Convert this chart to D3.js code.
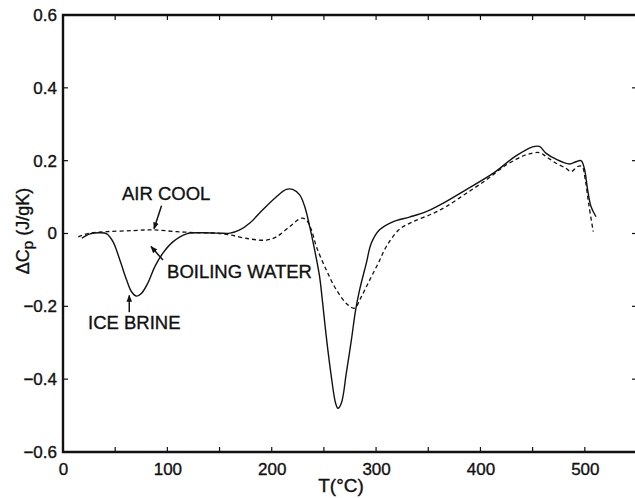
<!DOCTYPE html>
<html>
<head>
<meta charset="utf-8">
<script src="https://cdn.jsdelivr.net/npm/d3@7"></script>
<style>
  body { margin: 0; background: #fff; }
  svg text { font-family: "Liberation Sans", Arial, sans-serif; fill: #111;
             stroke: #111; stroke-width: 0.35px; }
</style>
</head>
<body>
<svg id="chart" width="635" height="498"></svg>
<script>
// solid curve (ice brine / boiling water)
var solidT = [18, 26, 35, 42, 48, 54.5, 61, 65.7, 70.5, 75.3, 81.3, 88, 95.7, 105.3,
  118.4, 131, 150, 160, 169.4, 179, 191.4, 204.5, 214, 220, 226.8, 231.6, 236.4,
  241.1, 245.9, 248.5, 252.3, 257.1, 261.2, 263.4, 266.7, 271.5, 276.3, 280.4,
  284.2, 290.6, 295.4, 303.3, 316, 332, 348, 364, 386, 412, 434, 450, 456.5,
  463, 472.4, 485.2, 491.6, 496.4, 499.5, 502.7, 505.9, 510.7];
var solidCp = [-0.013, -0.001, 0.002, -0.001, -0.023, -0.073, -0.128, -0.160, -0.172,
  -0.164, -0.136, -0.091, -0.054, -0.023, -0.001, 0.002, 0.001, 0.001, 0.010,
  0.029, 0.065, 0.101, 0.121, 0.121, 0.106, 0.074, 0.019, -0.045, -0.119, -0.183,
  -0.284, -0.393, -0.466, -0.480, -0.466, -0.383, -0.293, -0.210, -0.155, -0.082,
  -0.027, 0.010, 0.032, 0.045, 0.060, 0.083, 0.120, 0.165, 0.213, 0.238, 0.239,
  0.220, 0.204, 0.191, 0.197, 0.200, 0.179, 0.120, 0.074, 0.046];

// dashed curve (air cool)
var dashedT = [14.6, 25.8, 41.8, 67.3, 86.4, 108.8, 131, 147, 159.8, 179, 195,
  204.5, 217.2, 228.4, 233.2, 238, 242.8, 252.3, 262, 273, 279.4, 285.8, 293.8,
  302, 310, 322.5, 335.2, 354.4, 367.2, 386.3, 405.5, 424.6, 443.7, 456.5,
  463, 472.4, 482, 486.8, 493.1, 497.3, 500.5, 503.6, 508.1];
var dashedCp = [-0.009, 0.001, 0.005, 0.008, 0.010, 0.005, 0.002, 0.001, -0.004,
  -0.015, -0.018, -0.009, 0.019, 0.042, 0.037, 0.010, -0.036, -0.100, -0.155,
  -0.196, -0.205, -0.174, -0.128, -0.082, -0.035, 0.012, 0.032, 0.055, 0.074,
  0.110, 0.147, 0.188, 0.216, 0.222, 0.211, 0.193, 0.179, 0.170, 0.184, 0.184,
  0.147, 0.083, 0.005];

var xTickLabels = [0, 100, 200, 300, 400, 500];
var xTickMarks = [50, 100, 150, 200, 250, 300, 350, 400, 450, 500];
var yTickLabels = [-0.6, -0.4, -0.2, 0, 0.2, 0.4, 0.6];

var notes = [
  { text: "AIR COOL", t: 56.5, v: 0.092, from: [94.4, 0.076], to: [87.2, 0.013] },
  { text: "BOILING WATER", t: 99.7, v: -0.122, from: [95.8, -0.073], to: [84.3, -0.036] },
  { text: "ICE BRINE", t: 24, v: -0.262, from: [63.5, -0.216], to: [63.5, -0.170] }
];

///////////////////////////////////////////////////////////////////////////////

var svg = d3.select("#chart");
var plotLeft = 63, plotRight = 637, plotTop = 15, plotBottom = 452;

var x = d3.scaleLinear().domain([0, 550]).range([plotLeft, plotRight]);
var y = d3.scaleLinear().domain([-0.6, 0.6]).range([plotBottom, plotTop]);

var yFmt = function (d) {
  return d === 0 ? "0" : d3.format(".1f")(d).replace("-", "\u2212");
};

var defs = svg.append("defs");
defs.append("marker")
  .attr("id", "head")
  .attr("viewBox", "0 0 10 10")
  .attr("refX", 9).attr("refY", 5)
  .attr("markerWidth", 7).attr("markerHeight", 7)
  .attr("markerUnits", "userSpaceOnUse")
  .attr("orient", "auto")
  .append("path")
  .attr("d", "M0,1 L10,5 L0,9 Z")
  .attr("fill", "#111");

// axes (labels only, ticks drawn inward below)
var bottomAxis = svg.append("g")
  .attr("transform", "translate(0," + plotBottom + ")")
  .call(d3.axisBottom(x).tickValues(xTickLabels).tickSize(0).tickPadding(11)
    .tickFormat(d3.format("d")));
var leftAxis = svg.append("g")
  .attr("transform", "translate(" + plotLeft + ",0)")
  .call(d3.axisLeft(y).tickValues(yTickLabels).tickSize(0).tickPadding(6)
    .tickFormat(yFmt));

[bottomAxis, leftAxis].forEach(function (g) {
  g.select(".domain").remove();
  g.selectAll("text").attr("font-size", 17).attr("fill", "#111")
    .attr("font-family", "Liberation Sans, Arial, sans-serif");
});

var ticks = svg.append("g").attr("stroke", "#111").attr("stroke-width", 1.2);
xTickMarks.forEach(function (t) {
  ticks.append("line").attr("x1", x(t)).attr("x2", x(t))
    .attr("y1", plotBottom).attr("y2", plotBottom - 5);
  ticks.append("line").attr("x1", x(t)).attr("x2", x(t))
    .attr("y1", plotTop).attr("y2", plotTop + 5);
});
yTickLabels.forEach(function (v) {
  ticks.append("line").attr("x1", plotLeft).attr("x2", plotLeft + 5)
    .attr("y1", y(v)).attr("y2", y(v));
  ticks.append("line").attr("x1", plotRight).attr("x2", plotRight - 5)
    .attr("y1", y(v)).attr("y2", y(v));
});

// frame
svg.append("path")
  .attr("d", "M" + plotRight + "," + plotTop + "H" + plotLeft + "V" + plotBottom + "H" + plotRight)
  .attr("fill", "none")
  .attr("stroke", "#111")
  .attr("stroke-width", 2.4);

// curves
var line = d3.line()
  .x(function (d) { return x(d[0]); })
  .y(function (d) { return y(d[1]); })
  .curve(d3.curveCatmullRom.alpha(0.5));

svg.append("path")
  .datum(d3.zip(dashedT, dashedCp))
  .attr("d", line)
  .attr("fill", "none")
  .attr("stroke", "#111")
  .attr("stroke-width", 1.3)
  .attr("stroke-dasharray", "4,3");

svg.append("path")
  .datum(d3.zip(solidT, solidCp))
  .attr("d", line)
  .attr("fill", "none")
  .attr("stroke", "#111")
  .attr("stroke-width", 1.4);

// annotations
var ann = svg.append("g");
notes.forEach(function (n) {
  ann.append("text")
    .attr("x", x(n.t)).attr("y", y(n.v))
    .attr("font-size", 18.5)
    .text(n.text);
  ann.append("line")
    .attr("x1", x(n.from[0])).attr("y1", y(n.from[1]))
    .attr("x2", x(n.to[0])).attr("y2", y(n.to[1]))
    .attr("stroke", "#111").attr("stroke-width", 1.5)
    .attr("marker-end", "url(#head)");
});

// axis titles
svg.append("text")
  .attr("x", 341).attr("y", 492)
  .attr("text-anchor", "middle")
  .attr("font-size", 19)
  .text("T(\u00B0C)");

var yTitle = svg.append("text")
  .attr("transform", "translate(29,231) rotate(-90)")
  .attr("text-anchor", "middle")
  .attr("font-size", 18);
yTitle.append("tspan").text("\u0394C");
yTitle.append("tspan").attr("dy", 4).attr("font-size", 15).text("p");
yTitle.append("tspan").attr("dy", -4).text(" (J/gK)");
</script>
</body>
</html>
